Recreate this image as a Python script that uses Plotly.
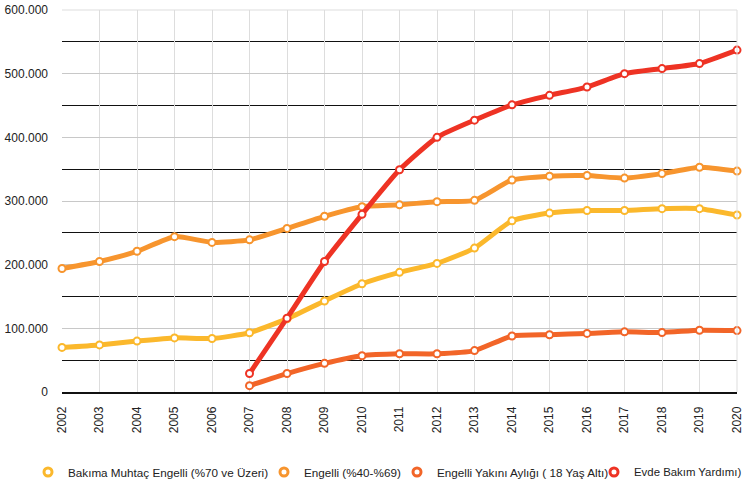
import plotly.graph_objects as go

years = list(range(2002, 2021))
series_names = [
    "Bakıma Muhtaç Engelli (%70 ve Üzeri)",
    "Engelli (%40-%69)",
    "Engelli Yakını Aylığı ( 18 Yaş Altı)",
    "Evde Bakım Yardımı)",
]
bakima = [70000, 74000, 80000, 85000, 84000, 93000, 115000, 143000, 170000, 188000,
          202000, 226000, 269000, 281000, 285000, 285000, 288000, 288000, 278000]
engelli = [194000, 205000, 221000, 244000, 235000, 239000, 257000, 276000, 291000, 294000,
           299000, 301000, 333000, 339000, 340000, 336000, 343000, 353000, 347000]
yakini = [None] * 5 + [10000, 29000, 45000, 57000, 60000, 60000, 65000, 88000, 90000,
                       92000, 94500, 93500, 97000, 96500]
evde = [None] * 5 + [29000, 116000, 205000, 279000, 349000, 400000, 427000, 451000,
                     466000, 479000, 500000, 508000, 516000, 537000]
colors = ["#FBB82C", "#F7952E", "#F26528", "#EE3324"]
y_ticks = [0, 100000, 200000, 300000, 400000, 500000, 600000]
legend_ids = ["legend", "legend2", "legend3", "legend4"]
legend_text_x = [68, 304, 437, 634]  # where each legend label starts (px)
legend_font = [11.7, 11.7, 11.7, 11.4]

fig = go.Figure()
for name, vals, col in zip(series_names, [bakima, engelli, yakini, evde], colors):
    fig.add_trace(go.Scatter(
        x=years, y=vals, mode="lines+markers", name=name, showlegend=False,
        line=dict(color=col, width=5, shape="spline", smoothing=0.5),
        marker=dict(symbol="circle", size=7, color="white", line=dict(color=col, width=2)),
        cliponaxis=False, connectgaps=False,
    ))
for name, col, lid in zip(series_names, colors, legend_ids):
    fig.add_trace(go.Scatter(
        x=[None], y=[None], mode="markers", name=name, showlegend=True, legend=lid,
        marker=dict(symbol="circle-open", size=8, color=col, line=dict(color=col, width=3)),
    ))

legend_common = dict(orientation="h", xref="container", yref="container",
                     xanchor="left", yanchor="middle", y=1 - 472 / 484,
                     bgcolor="rgba(0,0,0,0)", borderwidth=0, itemwidth=30)
layout_legends = {}
for lid, tx, fs in zip(legend_ids, legend_text_x, legend_font):
    layout_legends[lid] = dict(legend_common, x=(tx - 40) / 749,
                               font=dict(size=fs, color="#222222"))

fig.update_layout(
    width=749, height=484,
    margin=dict(l=62, r=12, t=10, b=92, autoexpand=False),
    paper_bgcolor="white", plot_bgcolor="white",
    separators=",.",
    font=dict(family="Liberation Sans, Arial, Helvetica, sans-serif", size=12, color="#222222"),
    **layout_legends,
)
fig.update_xaxes(
    range=[2002, 2020], tickmode="array", tickvals=years, ticktext=[str(y) for y in years],
    tickangle=-90, showgrid=True, gridcolor="#dddddd", gridwidth=1,
    showline=True, linecolor="#111111", linewidth=1.5, mirror=False,
    ticks="", zeroline=False, ticklabelstandoff=8,
)
fig.update_yaxes(
    range=[0, 600000], tickmode="array", tickvals=y_ticks, tickformat=",d",
    showgrid=True, gridcolor="#c8c8c8", gridwidth=1,
    minor=dict(dtick=50000, tick0=0, showgrid=True, gridcolor="#111111", gridwidth=1),
    zeroline=False, showline=False, ticks="", ticklabelstandoff=13,
)
fig.add_shape(type="line", xref="paper", yref="paper", x0=1, x1=1, y0=0, y1=1,
              line=dict(color="#dddddd", width=1))
fig.add_shape(type="line", xref="paper", yref="paper", x0=0, x1=1, y0=1, y1=1,
              line=dict(color="#dddddd", width=1))
fig.write_html("out.html", config={"displayModeBar": False},
               post_script="document.body.style.margin='0';")
